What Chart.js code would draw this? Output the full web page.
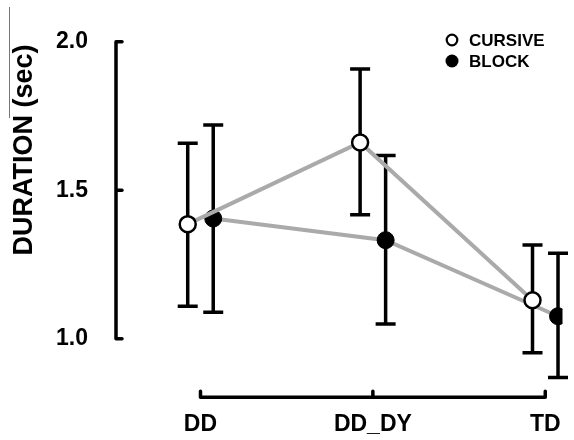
<!DOCTYPE html>
<html>
<head>
<meta charset="utf-8">
<script src="https://cdn.jsdelivr.net/npm/chart.js@4.4.0/dist/chart.umd.min.js"></script>
<style>
  html, body { margin: 0; padding: 0; background: #fff; }
  #wrap { width: 574px; height: 440px; }
</style>
</head>
<body>
<div id="wrap"><canvas id="chart" width="574" height="440"></canvas></div>
<script>
const categories = ['DD', 'DD_DY', 'TD'];
const yTicks = [1.0, 1.5, 2.0];

const cursiveMean  = [1.386, 1.661, 1.130];
const cursiveUpper = [1.658, 1.908, 1.316];
const cursiveLower = [1.110, 1.418, 0.953];

const blockMean  = [1.405, 1.332, 1.076];
const blockUpper = [1.720, 1.617, 1.288];
const blockLower = [1.089, 1.050, 0.870];

// décalage horizontal entre les deux séries
const dodge = 0.074;

const FONT = 'Liberation Sans, Arial, sans-serif';

function toPoints(means, shift) {
  return means.map((v, i) => ({ x: i + shift, y: v }));
}

// barres d'erreur, dessinées sous les points
const errorBars = {
  id: 'errorBars',
  beforeDatasetsDraw(chart) {
    const { ctx, scales: { x, y } } = chart;
    const series = [
      { lo: cursiveLower, hi: cursiveUpper, shift: -dodge },
      { lo: blockLower, hi: blockUpper, shift: dodge }
    ];
    ctx.save();
    ctx.strokeStyle = '#000';
    ctx.lineWidth = 3.5;
    series.forEach(s => {
      s.lo.forEach((lo, i) => {
        const px = x.getPixelForValue(i + s.shift);
        const top = y.getPixelForValue(s.hi[i]);
        const bot = y.getPixelForValue(lo);
        ctx.beginPath();
        ctx.moveTo(px, top); ctx.lineTo(px, bot);
        ctx.moveTo(px - 10, top); ctx.lineTo(px + 10, top);
        ctx.moveTo(px - 10, bot); ctx.lineTo(px + 10, bot);
        ctx.stroke();
      });
    });
    ctx.restore();
  }
};

// axes, titre et légende
const decorations = {
  id: 'decorations',
  afterDraw(chart) {
    const { ctx, chartArea, scales: { x, y } } = chart;
    ctx.save();
    ctx.strokeStyle = '#000';
    ctx.lineWidth = 3.5;
    ctx.lineCap = 'round';

    // axe Y de 1.0 à 2.0
    const ax = chartArea.left;
    ctx.beginPath();
    ctx.moveTo(ax, y.getPixelForValue(yTicks[0]));
    ctx.lineTo(ax, y.getPixelForValue(yTicks[yTicks.length - 1]));
    yTicks.forEach(t => {
      const py = y.getPixelForValue(t);
      ctx.moveTo(ax, py); ctx.lineTo(ax + 6, py);
    });
    ctx.stroke();

    // axe X de DD à TD
    const ay = chartArea.bottom - 1;
    ctx.beginPath();
    ctx.moveTo(x.getPixelForValue(0), ay);
    ctx.lineTo(x.getPixelForValue(categories.length - 1), ay);
    categories.forEach((c, i) => {
      const px = x.getPixelForValue(i);
      ctx.moveTo(px, ay); ctx.lineTo(px, ay - 6);
    });
    ctx.stroke();

    // titre Y
    ctx.fillStyle = '#000';
    ctx.font = 'bold 27px ' + FONT;
    ctx.textAlign = 'center';
    ctx.textBaseline = 'middle';
    ctx.translate(25, 150);
    ctx.rotate(-Math.PI / 2);
    ctx.fillText('DURATION (sec)', 0, 0);
    ctx.setTransform(1, 0, 0, 1, 0, 0);

    ctx.strokeStyle = '#777';
    ctx.lineWidth = 1;
    ctx.lineCap = 'butt';
    ctx.beginPath();
    ctx.moveTo(9.5, 7); ctx.lineTo(9.5, 118);
    ctx.stroke();

    // légende
    ctx.lineWidth = 2.2;
    ctx.strokeStyle = '#000';
    ctx.beginPath();
    ctx.arc(452, 40, 5.3, 0, Math.PI * 2);
    ctx.fillStyle = '#fff';
    ctx.fill();
    ctx.stroke();
    ctx.beginPath();
    ctx.arc(452, 61, 6.5, 0, Math.PI * 2);
    ctx.fillStyle = '#000';
    ctx.fill();

    ctx.font = 'bold 17px ' + FONT;
    ctx.textAlign = 'left';
    ctx.fillText('CURSIVE', 469, 41);
    ctx.fillText('BLOCK', 469, 62);
    ctx.restore();
  }
};

new Chart(document.getElementById('chart'), {
  type: 'line',
  data: {
    datasets: [
      {
        label: 'CURSIVE',
        data: toPoints(cursiveMean, -dodge),
        borderColor: '#aaaaaa',
        borderWidth: 4,
        pointRadius: 8,
        pointBorderWidth: 2.5,
        pointBackgroundColor: '#fff',
        pointBorderColor: '#000',
        tension: 0
      },
      {
        label: 'BLOCK',
        data: toPoints(blockMean, dodge),
        borderColor: '#aaaaaa',
        borderWidth: 4,
        pointRadius: 8.5,
        pointBorderWidth: 1,
        pointBackgroundColor: '#000',
        pointBorderColor: '#000',
        tension: 0
      }
    ]
  },
  options: {
    responsive: false,
    animation: false,
    layout: { padding: { top: 21, right: 2, left: 0, bottom: 0 } },
    plugins: { legend: { display: false }, tooltip: { enabled: false } },
    scales: {
      x: {
        type: 'linear',
        min: -0.49,
        max: 2.1,
        grid: { display: false, drawTicks: false },
        border: { display: false },
        afterBuildTicks(scale) { scale.ticks = categories.map((c, i) => ({ value: i })); },
        afterFit(scale) { scale.height = 41; },
        ticks: {
          padding: 13,
          maxRotation: 0,
          color: '#000',
          font: { family: FONT, size: 23, weight: 'bold' },
          callback: v => categories[v]
        }
      },
      y: {
        min: 0.8,
        max: 2.0,
        grid: { display: false, drawTicks: false },
        border: { display: false },
        afterBuildTicks(scale) { scale.ticks = yTicks.map(v => ({ value: v })); },
        afterFit(scale) { scale.width = 116; },
        ticks: {
          padding: 28,
          color: '#000',
          font: { family: FONT, size: 23, weight: 'bold' },
          callback: v => v.toFixed(1)
        }
      }
    }
  },
  plugins: [errorBars, decorations]
});
</script>
</body>
</html>
